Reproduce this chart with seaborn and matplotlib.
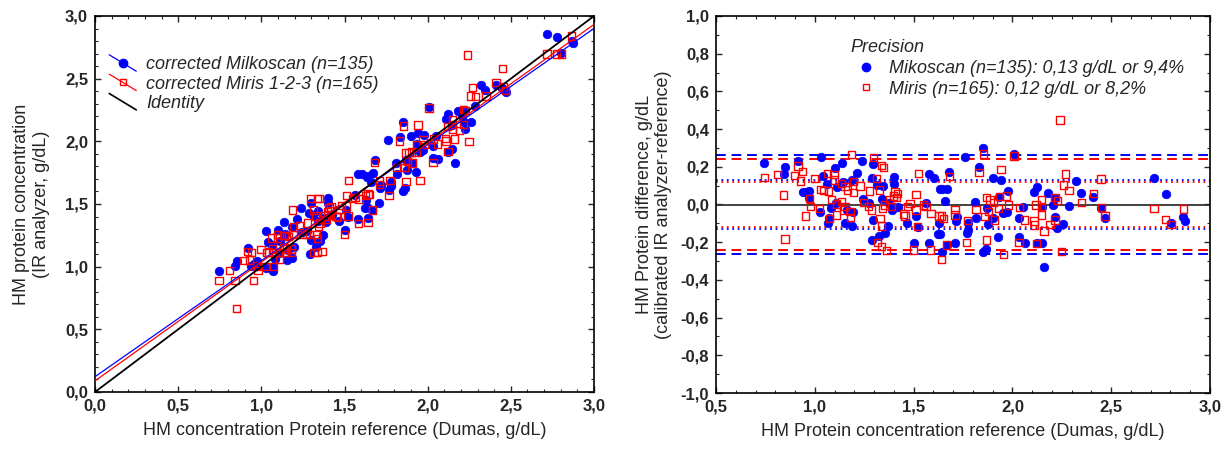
import numpy as np
import pandas as pd
import matplotlib
matplotlib.use("Agg")
import matplotlib.pyplot as plt
import seaborn as sns
from matplotlib.legend_handler import HandlerLine2D
from matplotlib.lines import Line2D
from matplotlib.ticker import MultipleLocator, FuncFormatter

# ---------------- data ----------------
milko_ref = [0.745,0.851,0.843,0.917,1.031,1.043,1.102,1.063,0.939,0.956,0.972,0.972,1.026,1.080,1.073,1.069,1.107,1.114,
             1.136,1.240,1.296,1.212,1.141,1.186,1.288,1.313,1.343,1.402,1.402,1.580,1.603,1.634,1.246,1.276,1.338,1.377,1.389,1.423,1.195,1.161,1.296,1.153,1.187,1.369,1.355,1.327,1.291,1.512,1.465,1.521,1.563,1.625,1.502,1.580,1.630,
             1.853,1.760,2.008,1.833,1.681,1.900,1.942,1.642,1.671,1.979,2.111,2.123,1.659,1.811,1.934,1.870,1.954,1.971,2.052,1.718,1.715,1.816,1.904,2.035,1.777,1.777,1.878,1.768,1.634,1.929,2.035,1.710,1.667,1.642,1.853,1.866,2.064,2.123,
             2.322,2.182,2.347,2.410,2.216,2.207,2.286,2.148,2.448,2.216,2.469,2.224,2.258,2.148,2.162,
             2.717,2.777,2.801,2.865,2.873]
milko_diff = [0.218,0.197,0.160,0.232,0.252,0.150,0.192,0.109,0.068,0.068,0.070,0.033,-0.038,-0.017,-0.073,-0.100,0.006,0.091,
              0.218,0.231,0.215,0.165,0.121,0.130,0.139,0.103,0.098,0.148,0.109,0.162,0.139,0.080,0.027,0.010,0.027,0.010,-0.029,-0.012,-0.038,-0.029,-0.082,-0.096,-0.114,-0.114,-0.150,-0.167,-0.189,-0.061,-0.100,-0.121,0.010,-0.157,-0.206,-0.202,-0.096,
              0.301,0.250,0.266,0.201,0.171,0.142,0.128,0.080,0.080,0.072,0.068,0.095,0.019,0.015,0.042,-0.017,-0.043,-0.038,-0.012,-0.065,-0.088,-0.074,-0.074,-0.074,-0.100,-0.135,-0.105,-0.153,-0.159,-0.171,-0.171,-0.206,-0.215,-0.250,-0.250,-0.238,-0.206,-0.206,
              0.126,0.059,0.063,0.042,0.033,-0.003,-0.008,-0.015,-0.020,-0.065,-0.074,-0.127,-0.106,-0.206,-0.333,
              0.142,0.056,-0.100,-0.065,-0.088]

miris_ref = [0.745,0.810,0.841,0.915,0.939,0.896,0.929,0.999,1.031,1.043,1.069,1.065,1.097,1.099,0.972,0.979,0.952,1.023,1.084,1.111,1.111,1.073,0.849,
             1.187,1.296,1.338,1.347,1.524,1.313,1.136,1.153,1.195,1.229,1.165,1.195,1.276,1.327,1.406,1.418,1.397,1.512,1.414,1.377,1.352,1.343,1.389,1.246,1.271,1.288,1.136,1.153,1.144,1.178,1.181,1.330,1.448,1.456,1.470,1.482,1.512,1.549,1.563,1.588,1.628,1.338,1.316,1.338,1.364,1.499,1.586,1.521,
             1.853,2.008,1.942,1.831,1.681,1.870,1.887,1.904,1.934,1.971,1.979,2.035,2.119,1.710,1.710,1.816,1.929,1.878,1.858,1.909,1.774,1.642,1.650,2.060,2.109,2.111,1.870,1.768,1.667,2.033,1.954,1.642,2.123,
             2.241,2.270,2.258,2.286,2.448,2.410,2.216,2.227,2.351,2.148,2.148,2.148,2.452,2.469,2.216,2.190,2.160,2.249,
             2.717,2.776,2.803,2.865]
miris_diff = [0.144,0.158,0.050,0.204,0.174,0.153,0.125,0.139,0.081,0.073,0.072,0.165,0.160,0.130,0.033,-0.012,-0.061,-0.022,0.028,0.003,-0.056,-0.073,-0.183,
              0.266,0.250,0.208,0.195,0.165,0.139,0.112,0.095,0.121,0.098,0.077,0.063,0.072,0.077,0.068,0.059,0.045,0.054,0.036,0.027,-0.003,-0.020,-0.012,0.010,-0.012,-0.029,0.015,-0.012,-0.029,-0.038,-0.068,-0.073,-0.050,-0.061,-0.012,0.006,-0.029,-0.003,-0.012,-0.047,-0.061,-0.114,-0.201,-0.224,-0.245,-0.241,-0.241,-0.118,
              0.268,0.257,0.187,0.171,0.148,0.038,0.024,0.010,0.042,0.045,-0.003,-0.017,-0.003,-0.026,-0.056,-0.026,-0.020,-0.038,-0.065,-0.082,-0.086,-0.061,-0.073,-0.082,-0.088,-0.109,-0.188,-0.201,-0.215,-0.201,-0.264,-0.291,-0.206,
              0.448,0.162,0.104,0.074,0.135,0.059,0.038,0.020,0.010,0.024,-0.012,-0.056,-0.017,-0.061,-0.082,-0.106,-0.141,-0.250,
              -0.020,-0.079,-0.106,-0.024]

# precision (SD) and 2*SD limits
milko_sd = 0.13
miris_sd = 0.12
milko_label = "corrected Milkoscan (n=135)"
miris_label = "corrected Miris 1-2-3 (n=165)"
identity_label = "Identity"
prec_title = "Precision"
milko_prec_label = "Mikoscan (n=135): 0,13 g/dL or 9,4%"
miris_prec_label = "Miris (n=165): 0,12 g/dL or 8,2%"

milko = pd.DataFrame({"ref": milko_ref, "diff": milko_diff})
milko["ir"] = milko["ref"] + milko["diff"]
miris = pd.DataFrame({"ref": miris_ref, "diff": miris_diff})
miris["ir"] = miris["ref"] + miris["diff"]

# ---------------- style ----------------
sns.set_theme(style="ticks")
plt.rcParams["font.family"] = ["Liberation Sans", "DejaVu Sans"]
plt.rcParams.update({
    "xtick.direction": "in", "ytick.direction": "in",
    "xtick.top": True, "ytick.right": True,
    "xtick.major.size": 4.5, "ytick.major.size": 4.5,
    "xtick.minor.size": 2.5, "ytick.minor.size": 2.5,
    "xtick.major.width": 1.0, "ytick.major.width": 1.0,
    "xtick.minor.width": 0.8, "ytick.minor.width": 0.8,
    "axes.linewidth": 1.2,
    "axes.edgecolor": "black",
})

BLUE = "#0000ff"
RED = "#ff0000"

fig = plt.figure(figsize=(12.31, 4.54), dpi=100)
ax1 = fig.add_axes([95 / 1231, 62 / 454, 499 / 1231, 376 / 454])
ax2 = fig.add_axes([716 / 1231, 61 / 454, 494 / 1231, 377 / 454])

fmt = FuncFormatter(lambda v, p: f"{v + 0.0:.1f}".replace(".", ","))


class DiagonalHandler(HandlerLine2D):
    def create_artists(self, legend, orig_handle, xdescent, ydescent,
                       width, height, fontsize, trans):
        x0, x1 = -xdescent, -xdescent + width
        y0, y1 = -ydescent + height * 1.15, -ydescent - height * 0.15
        line = Line2D([x0, x1], [y0, y1], color=orig_handle.get_color(),
                      lw=orig_handle.get_linewidth())
        line.set_transform(trans)
        arts = [line]
        if orig_handle.get_marker() not in (None, "None", "", " "):
            m = Line2D([(x0 + x1) / 2], [(y0 + y1) / 2],
                       marker=orig_handle.get_marker(),
                       markersize=orig_handle.get_markersize(),
                       markerfacecolor=orig_handle.get_markerfacecolor(),
                       markeredgecolor=orig_handle.get_markeredgecolor(),
                       markeredgewidth=orig_handle.get_markeredgewidth(),
                       linestyle="None")
            m.set_transform(trans)
            arts.append(m)
        return arts


# ---------------- left panel ----------------
ax1.set_xlim(0, 3)
ax1.set_ylim(0, 3)
sns.scatterplot(data=milko, x="ref", y="ir", ax=ax1, color=BLUE, marker="o",
                s=38, edgecolor=BLUE, linewidth=0.5, zorder=3)
sns.scatterplot(data=miris, x="ref", y="ir", ax=ax1, facecolor="none", marker="s",
                s=28, edgecolor=RED, linewidth=1.0, zorder=4)
sns.regplot(data=milko, x="ref", y="ir", ax=ax1, scatter=False, ci=None,
            truncate=False, line_kws=dict(color=BLUE, lw=0.9, zorder=5))
sns.regplot(data=miris, x="ref", y="ir", ax=ax1, scatter=False, ci=None,
            truncate=False, line_kws=dict(color=RED, lw=0.9, zorder=5))
ax1.axline((0, 0), slope=1, color="black", lw=1.3, zorder=6)
ax1.set_xlim(0, 3)
ax1.set_ylim(0, 3)

ax1.xaxis.set_major_locator(MultipleLocator(0.5))
ax1.yaxis.set_major_locator(MultipleLocator(0.5))
ax1.xaxis.set_minor_locator(MultipleLocator(0.1))
ax1.yaxis.set_minor_locator(MultipleLocator(0.1))

ax1.set_xlabel("HM concentration Protein reference (Dumas, g/dL)", fontsize=13, labelpad=6)
ax1.set_ylabel("HM protein concentration\n(IR analyzer, g/dL)", fontsize=13, labelpad=11)

h_m = Line2D([], [], color=BLUE, lw=0.9, marker="o", markersize=6,
             markerfacecolor=BLUE, markeredgecolor=BLUE)
h_r = Line2D([], [], color=RED, lw=0.9, marker="s", markersize=5,
             markerfacecolor="none", markeredgecolor=RED, markeredgewidth=1.0)
h_i = Line2D([], [], color="black", lw=1.2)
leg1 = ax1.legend([h_m, h_r, h_i], [milko_label, miris_label, identity_label],
                  handler_map={Line2D: DiagonalHandler()},
                  loc="upper left", bbox_to_anchor=(0.014, 0.912), frameon=False,
                  prop=dict(style="italic", size=13), handlelength=1.5,
                  handletextpad=0.55, labelspacing=0.13, borderaxespad=0)

# ---------------- right panel ----------------
ax2.set_xlim(0.5, 3.0)
ax2.set_ylim(-1.0, 1.0)
ax2.axhline(0, color="#333333", lw=1.3, zorder=1)
for sd, col in ((milko_sd, BLUE), (miris_sd, RED)):
    for sign in (1, -1):
        ax2.axhline(sign * sd, color=col, lw=1.3, ls=(0, (1, 2)), zorder=1)
        ax2.axhline(sign * 2 * sd, color=col, lw=1.4, ls=(0, (5, 3)), zorder=1)

sns.scatterplot(data=milko, x="ref", y="diff", ax=ax2, color=BLUE, marker="o",
                s=38, edgecolor=BLUE, linewidth=0.5, zorder=3)
sns.scatterplot(data=miris, x="ref", y="diff", ax=ax2, facecolor="none", marker="s",
                s=28, edgecolor=RED, linewidth=1.0, zorder=4)
ax2.set_xlim(0.5, 3.0)
ax2.set_ylim(-1.0, 1.0)
ax2.xaxis.set_major_locator(MultipleLocator(0.5))
ax2.yaxis.set_major_locator(MultipleLocator(0.2))
ax2.xaxis.set_minor_locator(MultipleLocator(0.1))
ax2.yaxis.set_minor_locator(MultipleLocator(0.1))
ax2.set_xlabel("HM Protein concentration reference (Dumas, g/dL)", fontsize=13, labelpad=6)
ax2.set_ylabel("HM Protein difference, g/dL\n(calibrated IR analyzer-reference)", fontsize=13, labelpad=6)

p_m = Line2D([], [], ls="None", marker="o", markersize=6, markerfacecolor=BLUE,
             markeredgecolor=BLUE)
p_r = Line2D([], [], ls="None", marker="s", markersize=5, markerfacecolor="none",
             markeredgecolor=RED, markeredgewidth=1.0)
leg2 = ax2.legend([p_m, p_r], [milko_prec_label, miris_prec_label], title=prec_title,
                  loc="upper left", bbox_to_anchor=(0.258, 0.957), frameon=False,
                  prop=dict(style="italic", size=13), handlelength=1.65,
                  handletextpad=0.5, labelspacing=0.2, borderaxespad=0,
                  title_fontproperties=dict(style="italic", size=13))
leg2._legend_box.align = "left"

for ax in (ax1, ax2):
    ax.xaxis.set_major_formatter(fmt)
    ax.yaxis.set_major_formatter(fmt)
    ax.tick_params(which="both", top=True, right=True, direction="in")
    ax.tick_params(which="major", labelsize=12, pad=5)
    for lab in ax.get_xticklabels() + ax.get_yticklabels():
        lab.set_fontweight("bold")
    for s in ax.spines.values():
        s.set_visible(True)
        s.set_color("black")

fig.savefig("out.png", dpi=100)
